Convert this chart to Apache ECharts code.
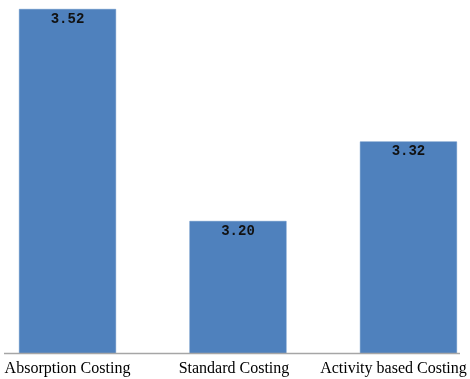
<!DOCTYPE html>
<html>
<head>
<meta charset="utf-8">
<script src="https://cdn.jsdelivr.net/npm/echarts@6/dist/echarts.min.js"></script>
<style>
  html, body { margin: 0; padding: 0; background: #ffffff; }
  #chart { width: 470px; height: 379px; }
</style>
</head>
<body>
<div id="chart"></div>
<script>
// Costing methods and their scores
const categories = ['Absorption Costing', 'Standard Costing', 'Activity based Costing'];
const values = [3.52, 3.20, 3.32];
const valueLabels = ['3.52', '3.20', '3.32'];

// rich-text keys so the long category names stay inside the canvas
const labelStyleKeys = ['a', 'b', 'c'];

// bars sit at category positions 0, 1, 2 on a numeric x scale
const barData = values.map((v, i) => [i, v]);

const chart = echarts.init(document.getElementById('chart'));

const catFont = { fontFamily: 'Liberation Serif', fontSize: 16, color: '#000' };

chart.setOption({
  animation: false,
  backgroundColor: '#ffffff',
  grid: { left: 0, right: 0, top: 9, bottom: 25.5, containLabel: false },
  xAxis: {
    type: 'value',
    min: -0.396,
    max: 2.361,
    splitLine: { show: false },
    axisLine: { show: false },
    axisTick: { show: false },
    axisLabel: {
      customValues: [0, 1, 2],
      showMinLabel: true,
      showMaxLabel: true,
      margin: 7,
      color: '#000000',
      fontFamily: 'Liberation Serif',
      fontSize: 16,
      formatter: (v) => {
        const i = Math.round(v);
        return '{' + labelStyleKeys[i] + '|' + categories[i] + '}';
      },
      rich: {
        a: Object.assign({}, catFont),
        b: Object.assign({ padding: [0, 8, 0, 0] }, catFont),
        c: Object.assign({ padding: [0, 30, 0, 0] }, catFont)
      }
    }
  },
  yAxis: {
    type: 'value',
    min: 3.0,
    max: 3.52,
    show: false,
    splitLine: { show: false }
  },
  graphic: [{
    type: 'line',
    shape: { x1: 4, y1: 353.5, x2: 460, y2: 353.5 },
    style: { stroke: '#a6a6a6', lineWidth: 1.5 },
    z: 10
  }],
  series: [{
    type: 'bar',
    data: barData,
    barWidth: 97,
    itemStyle: { color: '#4f81bd', borderColor: '#5a8ac3', borderWidth: 0.5 },
    label: {
      show: true,
      position: 'insideTop',
      distance: 3,
      color: '#111111',
      fontFamily: 'Liberation Mono',
      fontSize: 14,
      fontWeight: 'bold',
      formatter: (p) => valueLabels[p.dataIndex]
    }
  }]
});
</script>
</body>
</html>
